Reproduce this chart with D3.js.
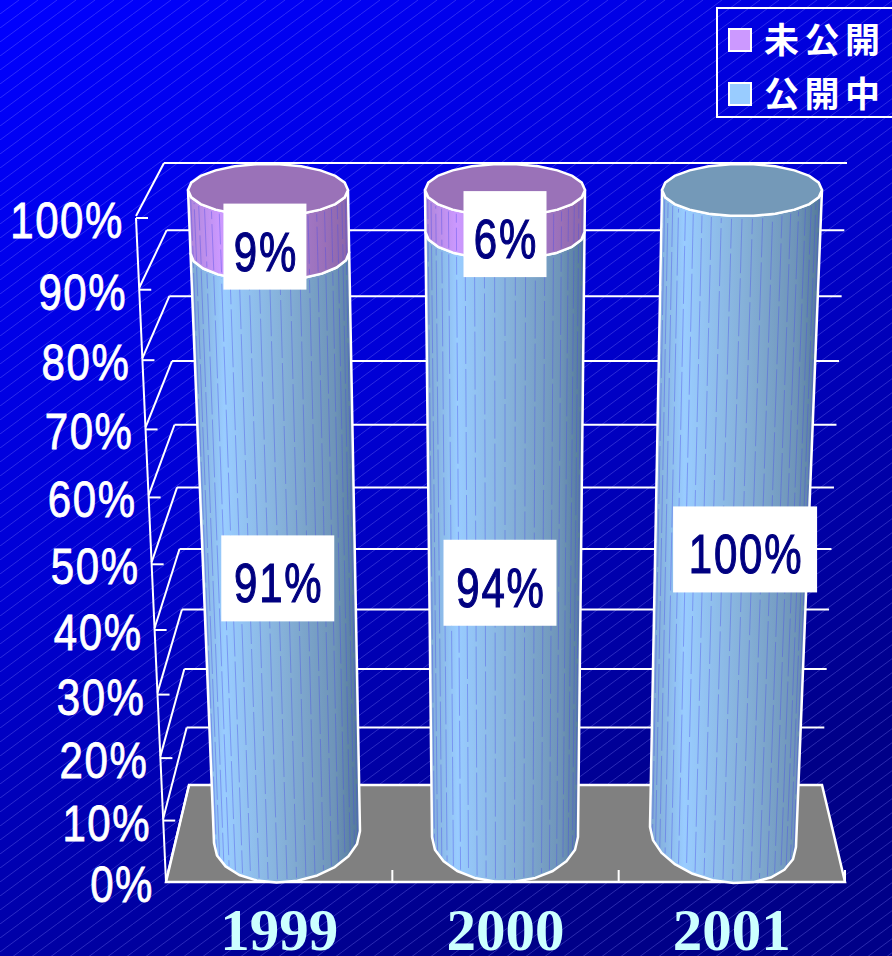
<!DOCTYPE html>
<html><head><meta charset="utf-8">
<script src="https://cdn.jsdelivr.net/npm/d3@7"></script>
<style>html,body{margin:0;padding:0;background:#00c;overflow:hidden}svg{display:block}</style>
</head><body><div id="c"></div>
<script>
const categories = ["1999","2000","2001"];
const unpublished = [9,6,0];
const published = [91,94,100];
const valueTicks = [0,10,20,30,40,50,60,70,80,90,100];
const seriesNames = ["未公開","公開中"];
const seriesColors = ["#cc99ff","#99ccff"];

const W=892,H=956;
const svg=d3.select("#c").append("svg").attr("width",W).attr("height",H);
const defs=svg.append("defs");

// background
const bg=defs.append("linearGradient").attr("id","bg").attr("x1",0).attr("y1",0).attr("x2",0.5).attr("y2",1);
[[0,"#0000ff"],[.5,"#0000d4"],[1,"#000088"]].forEach(s=>bg.append("stop").attr("offset",s[0]).attr("stop-color",s[1]));
const hatch=defs.append("pattern").attr("id","hatch").attr("patternUnits","userSpaceOnUse")
  .attr("width",19).attr("height",14);
hatch.append("path").attr("d","M-1.36,15L20.36,-1").attr("stroke","#8a8aff").attr("stroke-opacity",.38).attr("stroke-width",.8);
svg.append("rect").attr("width",W).attr("height",H).attr("fill","url(#bg)");
svg.append("rect").attr("width",W).attr("height",H).attr("fill","url(#hatch)");

// cylinder gradients
function grad(id,stops){
  const g=defs.append("linearGradient").attr("id",id).attr("x1",0).attr("x2",1).attr("y1",0).attr("y2",0);
  stops.forEach(s=>g.append("stop").attr("offset",s[0]).attr("stop-color",s[1]));
}
grad("gBlue",[[0,"#7ea8d2"],[.2,"#99ccff"],[.55,"#85b0d8"],[.85,"#6e94b8"],[1,"#527898"]]);
grad("gPurple",[[0,"#ad85d8"],[.2,"#cc99ff"],[.55,"#ae82d8"],[.85,"#9a70b8"],[1,"#8a66a8"]]);
const capColors=["#9a72b8","#7499b8"];
const bodyFills=["url(#gPurple)","url(#gBlue)"];

// perspective: value -> projected fraction of height
const fraction=d3.scaleLinear().domain([0,100]).range([0,1]);
const persp=v=>{const u=fraction(v);return u/(1+0.09*(1-u));};

const yFront=d3.scaleLinear().domain([0,1]).range([882,218]);
const xFront=d3.scaleLinear().domain([0,1]).range([166,136]);
const yBack =d3.scaleLinear().domain([0,1]).range([785,163]);
const xBackL=d3.scaleLinear().domain([0,1]).range([189,164]);
const xBackR=d3.scaleLinear().domain([0,1]).range([822,847]);

const band=d3.scaleBand().domain(categories).range([166,845]);
const cxBase=d3.scalePoint().domain(categories).range([287,723]);
const cxTop =d3.scalePoint().domain(categories).range([268,742]);
const tiltBase=d3.scaleOrdinal().domain(categories).range([-6,0,10]);
const yCyl=d3.scaleLinear().domain([0,1]).range([837,190]);
const rx=d3.scaleLinear().domain([0,1]).range([73,80]);
const ry=d3.scaleLinear().domain([0,1]).range([45,26]);
const SW=2.5;

// floor
const floorPts=[[xBackL(0),yBack(0)],[xBackR(0),yBack(0)],[845,yFront(0)],[xFront(0),yFront(0)]];
svg.append("path").attr("d",d3.line()(floorPts)+"Z").attr("fill","#808080").attr("stroke","#fff").attr("stroke-width",SW);

// walls
const wall=svg.append("g").attr("fill","none").attr("stroke","#fff").attr("stroke-width",2);
valueTicks.forEach(v=>{
  const t=persp(v);
  if(v>0) wall.append("line").attr("x1",xBackL(t)).attr("y1",yBack(t)).attr("x2",xBackR(t)).attr("y2",yBack(t));
  wall.append("line").attr("x1",xFront(t)).attr("y1",yFront(t)-2).attr("x2",xBackL(t)).attr("y2",yBack(t));
  wall.append("line").attr("x1",xFront(t)).attr("y1",yFront(t)).attr("x2",xFront(t)+12).attr("y2",yFront(t));
});
wall.append("line").attr("x1",xFront(0)).attr("y1",yFront(0)).attr("x2",xFront(1)).attr("y2",yFront(1));
categories.forEach(c=>{
  const x=band(c)+band.bandwidth();
  wall.append("line").attr("x1",x).attr("y1",yFront(0)).attr("x2",x).attr("y2",yFront(0)-12);
});

// tick labels
svg.append("g").selectAll("text").data(valueTicks).join("text")
  .attr("transform",v=>{const t=persp(v);return `translate(${xFront(t)-12},${yFront(t)+20}) scale(1,1.17)`;})
  .attr("text-anchor","end").attr("fill","#fff").attr("stroke","#fff").attr("stroke-width",.7)
  .attr("font-family","'Liberation Sans',Arial,sans-serif").attr("font-size",42).attr("letter-spacing",1.6)
  .text(v=>v+"%");

// cylinders
const ring=(c,v,a0,a1,n)=>{
  const t=persp(v), k=1-t;
  const cx=d3.interpolateNumber(cxBase(c),cxTop(c))(t), cy=yCyl(t), rX=rx(t), rY=ry(t), tilt=tiltBase(c)*k;
  return d3.range(n+1).map(i=>{
    const a=a0+(a1-a0)*i/n, ca=Math.cos(a);
    return [cx+rX*ca, cy+rY*Math.sin(a)+tilt*ca];
  });
};
const line=d3.line();
const layer=svg.append("g");
const RIM=11, STREAKS=24;
categories.forEach((c,i)=>{
  const stack=[{v0:0,v1:published[i],s:1},{v0:published[i],v1:published[i]+unpublished[i],s:0}].filter(d=>d.v1>d.v0);
  stack.forEach(d=>{
    const lower=ring(c,d.v0,Math.PI,0,RIM);
    const upper=ring(c,d.v1,0,Math.PI,RIM);
    const body=line(lower.concat(upper))+"Z";
    layer.append("path").attr("d",body).attr("fill",bodyFills[d.s]);
    const lo=ring(c,d.v0,Math.PI,0,STREAKS), hi=ring(c,d.v1,Math.PI,0,STREAKS);
    lo.forEach((p,j)=>{
      if(j===0||j===STREAKS) return;
      layer.append("line").attr("x1",p[0]).attr("y1",p[1]-3).attr("x2",hi[j][0]).attr("y2",hi[j][1]+3)
        .attr("stroke","#4a4ae6").attr("stroke-opacity",.4).attr("stroke-width",1)
        .attr("stroke-dasharray","58 5").attr("stroke-dashoffset",(j*23)%63);
    });
    layer.append("path").attr("d",body).attr("fill","none").attr("stroke","#fff").attr("stroke-width",SW).attr("stroke-linejoin","round");
  });
  const top=stack[stack.length-1];
  const cap=ring(c,top.v1,0,Math.PI,RIM).concat(ring(c,top.v1,Math.PI,2*Math.PI,RIM).slice(1));
  layer.append("path").attr("d",line(cap)+"Z").attr("fill",capColors[top.s]).attr("stroke","#fff").attr("stroke-width",SW);
});

// data labels
const labelFont="'Liberation Sans',Arial,sans-serif";
const lab=svg.append("g");
const labelShift={"1999-0":[-1,22],"1999-1":[-4,25],"2000-0":[-5,36],"2000-1":[0,23],"2001-0":[13,22]};
categories.forEach((c,i)=>{
  [[0,published[i],0],[published[i],published[i]+unpublished[i],1]].forEach(([a,b,k])=>{
    if(b<=a) return;
    const t=persp((a+b)/2);
    const sh=labelShift[c+"-"+k];
    const cx=d3.interpolateNumber(cxBase(c),cxTop(c))(t)+sh[0];
    const cy=yCyl(t)+sh[1];
    const g=lab.append("g");
    const tx=g.append("text").attr("text-anchor","middle")
      .attr("transform",`translate(${cx+1},${cy+24}) scale(1,1.33)`)
      .attr("fill","#000080").attr("stroke","#000080").attr("stroke-width",.9)
      .attr("font-family",labelFont).attr("font-size",42).attr("letter-spacing",1.8).text(b-a+"%");
    const w=tx.node().getComputedTextLength();
    const bw=w<70?83:(w<100?113:144), bh=86;
    g.insert("rect","text").attr("x",cx-bw/2).attr("y",cy-bh/2).attr("width",bw).attr("height",bh).attr("fill","#fff");
  });
});

// year labels
svg.append("g").selectAll("text").data(categories).join("text")
  .attr("x",c=>band(c)+band.bandwidth()/2).attr("y",950)
  .attr("text-anchor","middle").attr("fill","#ccffff").attr("font-weight","bold")
  .attr("font-family","'Liberation Serif','Times New Roman',serif").attr("font-size",59)
  .text(c=>c);

// legend
const leg=svg.append("g");
leg.append("rect").attr("x",717).attr("y",8).attr("width",190).attr("height",109)
  .attr("fill","none").attr("stroke","#fff").attr("stroke-width",2);
const legY=d3.scalePoint().domain(seriesNames).range([40,94]);
seriesNames.forEach((n,i)=>{
  leg.append("rect").attr("x",729).attr("y",legY(n)-11).attr("width",22).attr("height",22)
    .attr("fill",seriesColors[i]).attr("stroke","#fff").attr("stroke-width",2);
  leg.append("text").attr("x",764).attr("y",legY(n)+13).attr("fill","#fff")
    .attr("font-family","'Noto Sans CJK JP','Noto Sans',sans-serif").attr("font-weight",700)
    .attr("font-size",35).attr("letter-spacing",5.5).text(n);
});
</script>
</body></html>
